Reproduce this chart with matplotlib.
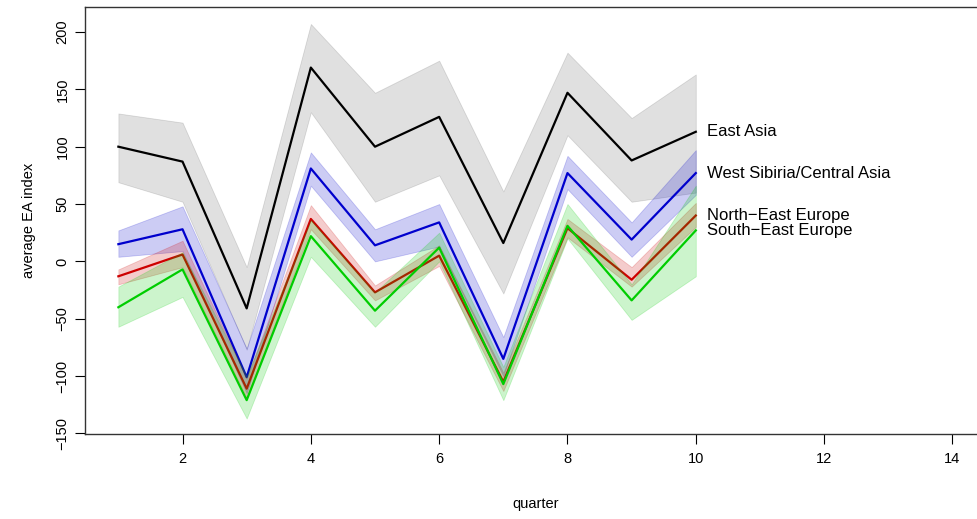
import matplotlib
matplotlib.use("Agg")
import matplotlib.pyplot as plt

plt.rcParams['font.family'] = ['Liberation Sans', 'DejaVu Sans']

quarters = [1, 2, 3, 4, 5, 6, 7, 8, 9, 10]

# East Asia
ea_mean = [100, 87, -41, 169, 100, 126, 16, 147, 88, 113]
ea_low = [69, 52, -77, 130, 52, 75, -28, 110, 52, 60]
ea_high = [129, 121, -5, 207, 147, 175, 61, 182, 125, 163]

# West Sibiria/Central Asia
ws_mean = [15, 28, -101, 81, 14, 34, -85, 77, 19, 77]
ws_low = [4, 9, -115, 66, 0, 13, -100, 63, 4, 58]
ws_high = [27, 48, -76, 95, 28, 50, -66, 92, 34, 97]

# North-East Europe
ne_mean = [-13, 6, -111, 37, -27, 5, -105, 29, -16, 40]
ne_low = [-20, -5, -119, 28, -34, -4, -113, 21, -22, 30]
ne_high = [-7, 18, -102, 49, -21, 14, -97, 37, -5, 51]

# South-East Europe
se_mean = [-40, -7, -121, 22, -43, 12, -107, 31, -34, 27]
se_low = [-57, -31, -137, 4, -57, 0, -121, 20, -51, -13]
se_high = [-22, 8, -100, 36, -27, 25, -92, 50, -20, 66]

labels = ["East Asia", "West Sibiria/Central Asia", "North\u2212East Europe", "South\u2212East Europe"]

fig = plt.figure(figsize=(9.77, 5.19), dpi=100)
ax = fig.add_axes([0.087, 0.1638, 0.922, 0.8227])

series = [
    (ea_mean, ea_low, ea_high, "black", (0, 0, 0, 0.12)),
    (ws_mean, ws_low, ws_high, "#0000CD", (0, 0, 0.8, 0.2)),
    (ne_mean, ne_low, ne_high, "#CD0000", (0.8, 0, 0, 0.2)),
    (se_mean, se_low, se_high, "#00CD00", (0, 0.8, 0, 0.2)),
]

for i, ((m, lo, hi, col, fcol), lab) in enumerate(zip(series, labels)):
    ax.fill_between(quarters, lo, hi, facecolor=fcol, edgecolor=fcol, linewidth=0.6,
                    zorder=2 + 2 * i)
    ax.plot(quarters, m, color=col, linewidth=1.6, zorder=3 + 2 * i)
    ax.text(quarters[-1] + 0.17, m[-1], lab, va="center", ha="left", fontsize=12)

ax.set_xlim(0.48, 14.52)
ax.set_ylim(-150.5, 221.8)
ax.set_xticks([2, 4, 6, 8, 10, 12, 14])
ax.set_yticks([-150, -100, -50, 0, 50, 100, 150, 200])
ax.set_yticklabels(["\u2212150", "\u2212100", "\u221250", "0", "50", "100", "150", "200"],
                   rotation=90, va="center")
ax.tick_params(direction="out", length=7, labelsize=10.5, pad=6)
ax.tick_params(axis="y", pad=4)
ax.set_xlabel("quarter", fontsize=10.5, labelpad=22)
ax.set_ylabel("average EA index", fontsize=10.5, labelpad=14)
for s in ax.spines.values():
    s.set_color("#333333")
    s.set_linewidth(1)

fig.savefig("out.png", dpi=100)
